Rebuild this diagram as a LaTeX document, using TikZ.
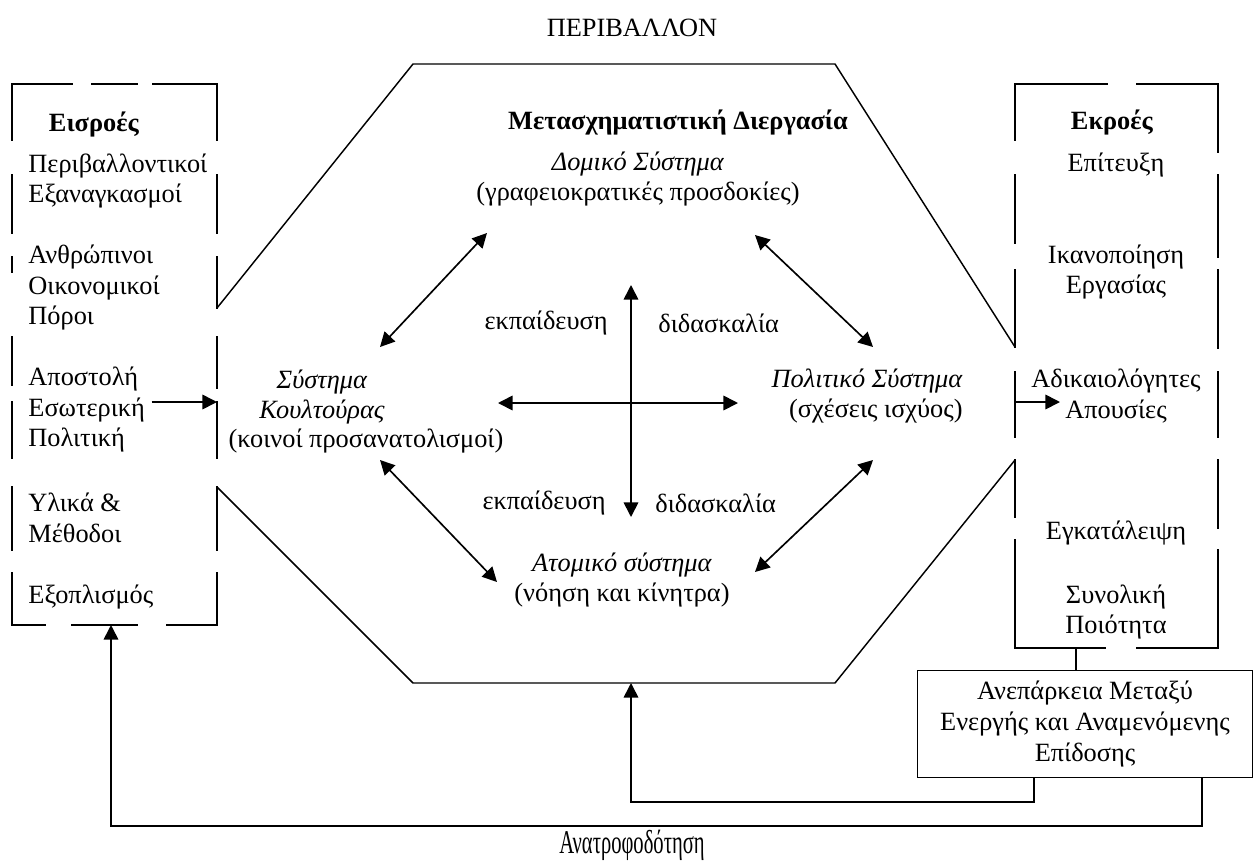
\documentclass[tikz,border=0pt]{standalone}
\usepackage{fontspec}
\usepackage{graphicx}
\setmainfont{Liberation Serif}
\usetikzlibrary{arrows.meta}

\begin{document}
\begin{tikzpicture}[x=0.01693cm,y=-0.01693cm,
  every node/.style={font=\fontsize{12.7}{14.7}\selectfont,inner sep=0pt},
  >={Triangle[length=7pt,width=7pt]},
  frame/.style={line width=0.7pt,line cap=rect},
  flow/.style={line width=0.8pt,->},
  link/.style={line width=0.8pt,<->},
  item/.style={anchor=west,align=left}]
\useasboundingbox (0,0) rectangle (1254,860);
\node (env) at (632,28) {ΠΕΡΙΒΑΛΛΟΝ};
% inputs box (broken frame)
\foreach \a/\b in {12/72,92/137,153/217} \draw[frame] (\a,84) -- (\b,84);
\foreach \a/\b in {12/45,72/137,167/217} \draw[frame] (\a,625) -- (\b,625);
\foreach \a/\b in {84/140,175/233,257/272,337/385,402/458,487/550,573/625} \draw[frame] (12,\a) -- (12,\b);
\foreach \a/\b in {84/140,175/233,257/308,337/388,402/458,487/550,573/625} \draw[frame] (217,\a) -- (217,\b);
\node (inh) at (94,125) {\textbf{Εισροές}};
\node[item] (in1) at (28,181) {Περιβαλλοντικοί\\Εξαναγκασμοί};
\node[item] (in2) at (28,288) {Ανθρώπινοι\\Οικονομικοί\\Πόροι};
\node[item] (in3) at (28,410) {Αποστολή\\Εσωτερική\\Πολιτική};
\node[item] (in4) at (28,518) {Υλικά \&\\Μέθοδοι};
\node[item] (in5) at (28,597) {Εξοπλισμός};
\coordinate (inR) at (217,402);
\coordinate (inB) at (111,625);
\draw[flow] (in3.east |- inR) [shorten <=3pt] -- (inR);
% transformation process
\draw[frame,line cap=butt] (217,308) -- (413,64) -- (835,64) -- (1015,347);
\draw[frame,line cap=butt] (1015,460) -- (835,683) -- (413,683) -- (217,487);
\node (proc) at (678,123) {\textbf{Μετασχηματιστική Διεργασία}};
\node[align=center] (dom) at (638,179) {\textit{Δομικό Σύστημα}\\(γραφειοκρατικές προσδοκίες)};
\node[align=center] (cul) at (322,397) {\textit{Σύστημα}\\\textit{Κουλτούρας}};
\node (culp) at (366,441) {(κοινοί προσανατολισμοί)};
\node[anchor=east,align=right] (pol) at (963,396) {\textit{Πολιτικό Σύστημα}\\(σχέσεις ισχύος)};
\node[align=center] (ind) at (622,580) {\textit{Ατομικό σύστημα}\\(νόηση και κίνητρα)};
\coordinate (cul-n) at (380,347);
\coordinate (dom-w) at (487,233);
\coordinate (dom-e) at (755,235);
\coordinate (pol-n) at (873,347);
\coordinate (pol-s) at (873,460);
\coordinate (ind-e) at (755,572);
\coordinate (cul-s) at (380,460);
\coordinate (ind-w) at (497,582);
\draw[link] (cul-n) -- (dom-w);
\draw[link] (dom-e) -- (pol-n);
\draw[link] (pol-s) -- (ind-e);
\draw[link] (cul-s) -- (ind-w);
% cross in the middle
\coordinate (vt) at (631,285);
\coordinate (vb) at (631,517);
\coordinate (hl) at (498,403);
\coordinate (hr) at (738,403);
\draw[link] (vt) -- (vb);
\draw[link] (hl) -- (hr);
\node[anchor=east] (edu1) at (608,323) {εκπαίδευση};
\node[anchor=west] (tea1) at (658,323) {διδασκαλία};
\node[anchor=east] (edu2) at (606,503) {εκπαίδευση};
\node[anchor=west] (tea2) at (655,503) {διδασκαλία};
\coordinate (octB) at (631,683);
% outputs box
\foreach \a/\b in {1015/1107,1137/1218} \draw[frame] (\a,84) -- (\b,84);
\foreach \a/\b in {1015/1105,1137/1218} \draw[frame] (\a,648) -- (\b,648);
\foreach \a/\b in {84/140,175/243,270/347,372/437,460/517,540/648} \draw[frame] (1015,\a) -- (1015,\b);
\foreach \a/\b in {84/152,175/257,270/348,372/437,460/528,550/648} \draw[frame] (1218,\a) -- (1218,\b);
\node (outh) at (1112,123) {\textbf{Εκροές}};
\node (out1) at (1116,165) {Επίτευξη};
\node[align=center] (out2) at (1116,272) {Ικανοποίηση\\Εργασίας};
\node[align=center] (out3) at (1116,396) {Αδικαιολόγητες\\Απουσίες};
\node (out4) at (1116,533) {Εγκατάλειψη};
\node[align=center] (out5) at (1116,612) {Συνολική\\Ποιότητα};
\coordinate (outL) at (1015,402);
\coordinate (outtip) at (1060,402);
\draw[flow] (outL) -- (outtip);
% gap box and feedback
\node[draw,frame,minimum width=161.3pt,minimum height=51.8pt,align=center] (gap) at (1085,724)
  {Ανεπάρκεια Μεταξύ\\Ενεργής και Αναμενόμενης\\Επίδοσης};
\coordinate (outB) at (1076,648);
\draw[frame] (outB) -- (outB |- gap.north);
\coordinate (fb1) at (1034,778);
\coordinate (fb2) at (1202,778);
\draw[flow] (fb1) -- ++(0,24) -| (octB);
\draw[flow] (fb2) -- ++(0,48) -| (inB);
\node (fbl) at (632,845) {\scalebox{0.62}[1]{\fontsize{16}{18}\selectfont Ανατροφοδότηση}};
\end{tikzpicture}
\end{document}
